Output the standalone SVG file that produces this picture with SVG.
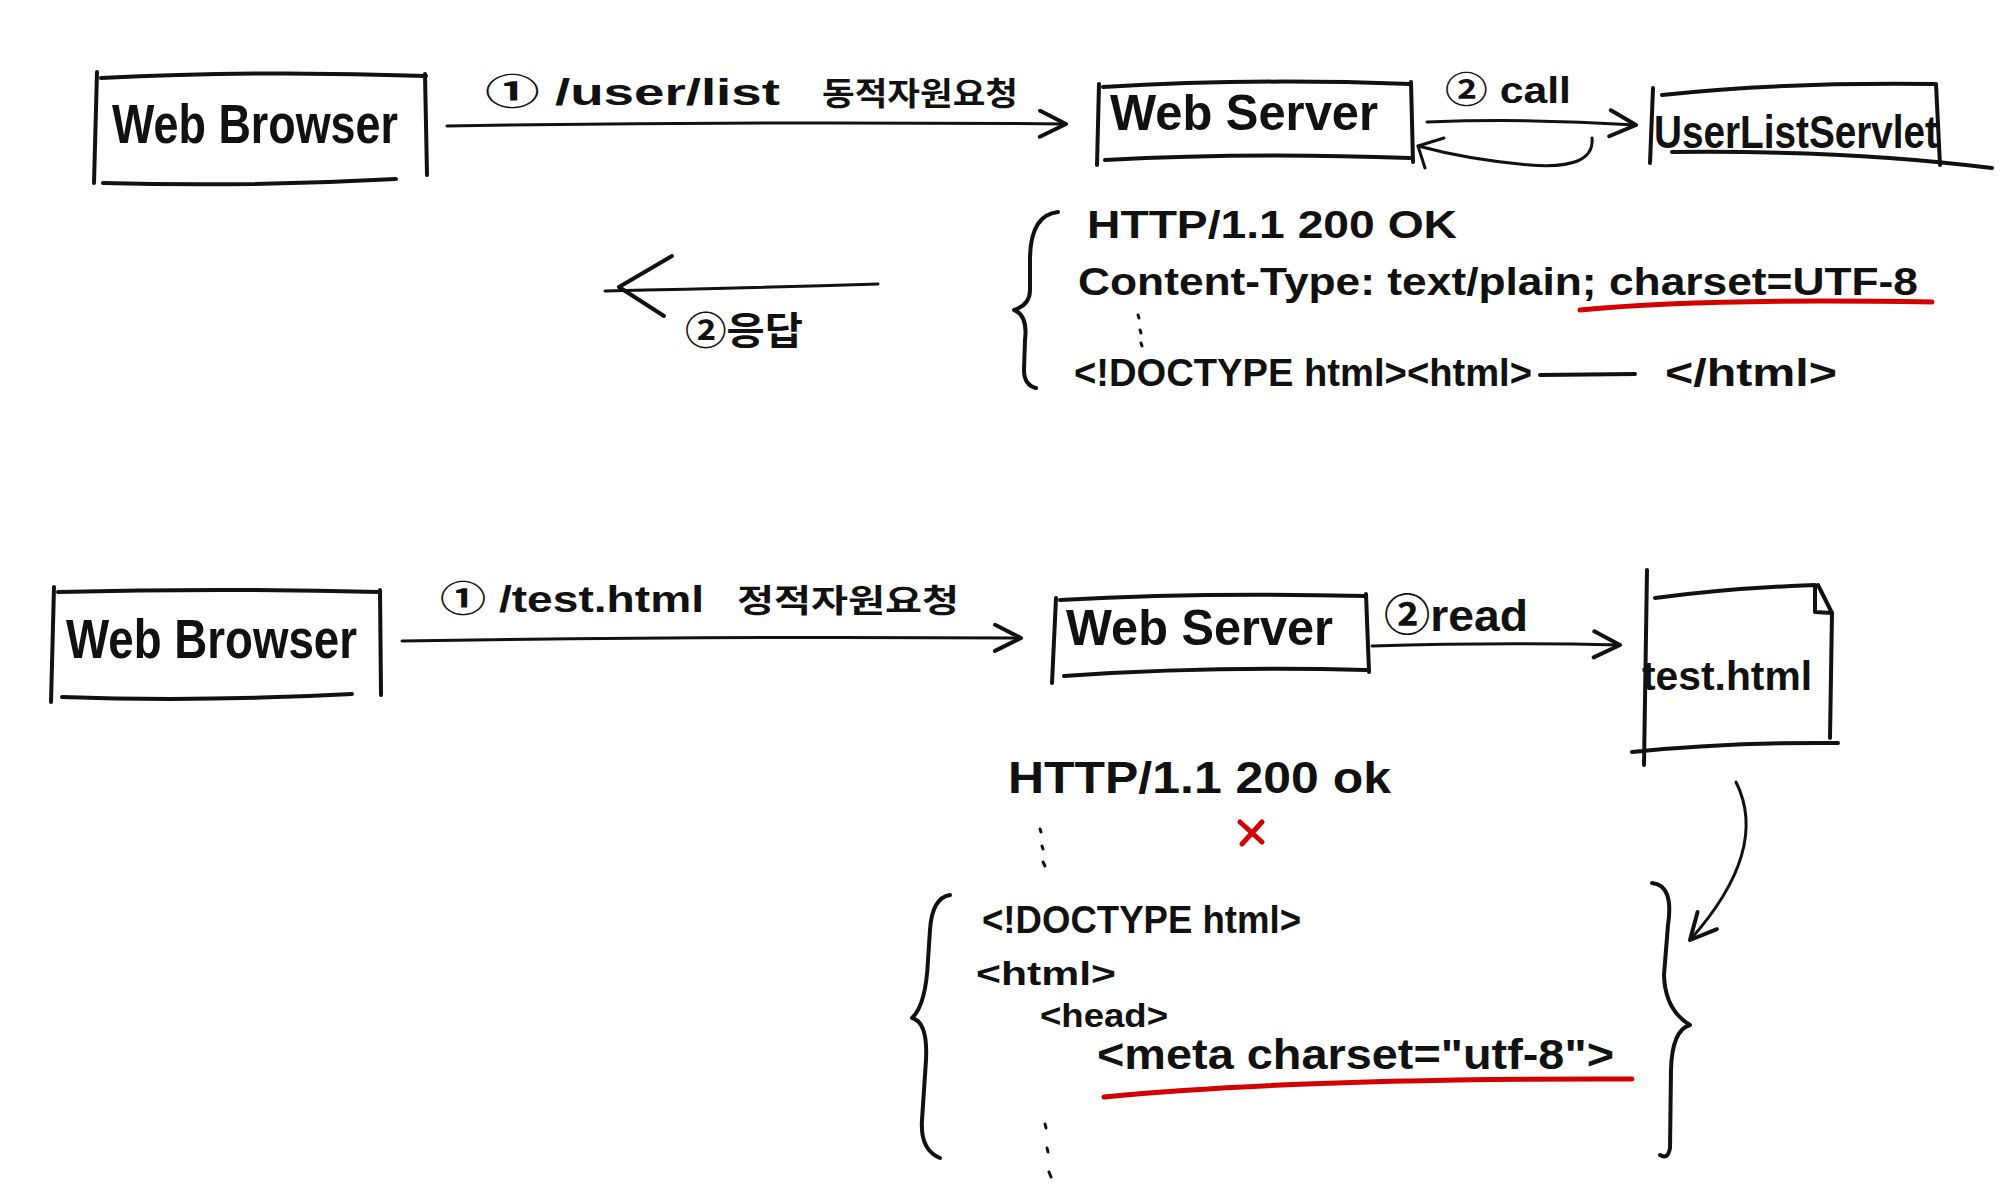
<svg xmlns="http://www.w3.org/2000/svg" width="2000" height="1196" viewBox="0 0 2000 1196">
<defs>
<style>
.ln{fill:none;stroke:#111;stroke-width:4;stroke-linecap:round;stroke-linejoin:round}
.thin{fill:none;stroke:#111;stroke-width:3;stroke-linecap:round;stroke-linejoin:round}
.red{fill:none;stroke:#d40000;stroke-width:5;stroke-linecap:round}
.t{font-family:"Liberation Sans","Noto Sans CJK KR",sans-serif;fill:#111;font-weight:bold}
.k{font-family:"Noto Sans CJK KR",sans-serif;fill:#111;font-weight:bold}
</style>
<marker id="ah" markerUnits="userSpaceOnUse" markerWidth="40" markerHeight="40" refX="30" refY="15" orient="auto">
<path d="M4,2 L30,15 L4,28" fill="none" stroke="#111" stroke-width="4" stroke-linecap="round" stroke-linejoin="round"/>
</marker>
</defs>
<rect width="2000" height="1196" fill="#fff"/>

<g id="browser1">
<path class="ln" d="M97,72 L94,183 M101,78 Q260,70 426,76 M425,74 L427,175 M103,183 Q250,187 396,179"/>
<text class="t" x="112" y="143" font-size="56" textLength="286" lengthAdjust="spacingAndGlyphs">Web Browser</text>
</g>

<g id="server1">
<path class="ln" d="M1099,84 L1097,165 M1103,87 Q1250,78 1410,84 M1411,82 L1413,162 M1105,160 Q1250,152 1410,158"/>
<text class="t" x="1110" y="130" font-size="50" textLength="268" lengthAdjust="spacingAndGlyphs">Web Server</text>
</g>

<g id="servlet">
<path class="ln" d="M1653,88 L1650,163 M1662,95 Q1780,82 1934,84 M1936,84 L1940,165 M1672,152 Q1850,150 1992,168"/>
<text class="t" x="1654" y="148" font-size="46" textLength="284" lengthAdjust="spacingAndGlyphs">UserListServlet</text>
</g>

<g id="response1">
<path class="ln" d="M1058,212 Q1030,215 1030,260 L1030,290 Q1030,305 1014,310 Q1028,315 1025,340 L1024,370 Q1024,385 1036,388"/>
<text class="t" x="1087" y="238" font-size="38" textLength="370" lengthAdjust="spacingAndGlyphs">HTTP/1.1  200 OK</text>
<text class="t" x="1078" y="295" font-size="38" textLength="840" lengthAdjust="spacingAndGlyphs">Content-Type: text/plain; charset=UTF-8</text>
<path class="red" d="M1580,310 Q1700,298 1932,302"/>
<path class="thin" d="M1138,315 L1139,318 M1140,330 L1141,333 M1141,343 L1142,346"/>
<text class="t" x="1074" y="386" font-size="38" textLength="458" lengthAdjust="spacingAndGlyphs">&lt;!DOCTYPE html&gt;&lt;html&gt;</text>
<path class="ln" d="M1540,375 L1635,374"/>
<text class="t" x="1665" y="386" font-size="38" textLength="172" lengthAdjust="spacingAndGlyphs">&lt;/html&gt;</text>
</g>

<g id="browser2">
<path class="ln" d="M54,587 L51,702 M58,592 Q220,588 380,592 M380,590 L381,695 M62,697 Q200,702 352,694"/>
<text class="t" x="66" y="658" font-size="56" textLength="291" lengthAdjust="spacingAndGlyphs">Web Browser</text>
</g>

<g id="server2">
<path class="ln" d="M1056,598 L1052,683 M1060,600 Q1200,592 1365,596 M1366,594 L1369,672 M1064,676 Q1210,666 1366,670"/>
<text class="t" x="1066" y="645" font-size="50" textLength="267" lengthAdjust="spacingAndGlyphs">Web Server</text>
</g>

<g id="file">
<path class="ln" d="M1647,570 L1644,765 M1655,598 Q1730,588 1815,585 L1815,612 L1832,613 L1818,585 M1832,613 L1830,738 M1632,752 Q1730,742 1838,743"/>
<text class="t" x="1642" y="690" font-size="40" textLength="170" lengthAdjust="spacingAndGlyphs">test.html</text>
</g>

<g id="response2">
<text class="t" x="1008" y="793" font-size="44" textLength="383" lengthAdjust="spacingAndGlyphs">HTTP/1.1 200 ok</text>
<path class="red" d="M1240,822 L1262,842 M1262,822 L1242,844"/>
<path class="thin" d="M1040,829 L1041,832 M1042,846 L1043,849 M1043,862 L1045,866"/>
<path class="ln" d="M950,895 Q932,898 930,930 L928,960 Q926,1005 912,1018 Q928,1022 926,1060 L922,1120 Q920,1150 940,1158"/>
<path class="ln" d="M1652,883 Q1674,885 1668,925 L1664,975 Q1665,1010 1690,1025 Q1672,1030 1671,1070 L1670,1148 Q1668,1160 1660,1155"/>
<text class="t" x="982" y="933" font-size="38" textLength="319" lengthAdjust="spacingAndGlyphs">&lt;!DOCTYPE html&gt;</text>
<text class="t" x="976" y="985" font-size="34" textLength="140" lengthAdjust="spacingAndGlyphs">&lt;html&gt;</text>
<text class="t" x="1040" y="1027" font-size="34" textLength="128" lengthAdjust="spacingAndGlyphs">&lt;head&gt;</text>
<text class="t" x="1097" y="1069" font-size="42" textLength="517" lengthAdjust="spacingAndGlyphs">&lt;meta charset="utf-8"&gt;</text>
<path class="red" d="M1104,1097 Q1300,1078 1632,1079"/>
<path class="thin" d="M1045,1124 L1046,1128 M1047,1148 L1048,1152 M1049,1172 L1051,1177"/>
</g>

<g id="connectors">
<path class="thin" d="M447,126 Q750,121 1066,124" marker-end="url(#ah)"/>
<text class="t" x="485" y="105" font-size="36" textLength="295" lengthAdjust="spacingAndGlyphs">① /user/list</text>
<text class="k" x="822" y="105" font-size="32" textLength="196" lengthAdjust="spacingAndGlyphs">동적자원요청</text>

<path class="thin" d="M1427,122 Q1530,118 1636,125" marker-end="url(#ah)"/>
<text class="t" x="1445" y="103" font-size="36" textLength="126" lengthAdjust="spacingAndGlyphs">② call</text>
<path class="thin" d="M1592,138 Q1595,170 1530,165 Q1470,160 1418,146"/>
<path class="thin" d="M1418,146 L1444,138 M1418,146 L1425,168"/>

<path class="thin" d="M878,284 Q750,288 605,291"/>
<path class="ln" d="M672,256 L619,287 L664,316"/>
<text class="k" x="685" y="344" font-size="38" textLength="118" lengthAdjust="spacingAndGlyphs">②응답</text>

<path class="thin" d="M402,641 Q700,636 1021,638" marker-end="url(#ah)"/>
<text class="t" x="440" y="612" font-size="36" textLength="264" lengthAdjust="spacingAndGlyphs">① /test.html</text>
<text class="k" x="737" y="612" font-size="32" textLength="222" lengthAdjust="spacingAndGlyphs">정적자원요청</text>

<path class="thin" d="M1372,646 Q1500,642 1620,645" marker-end="url(#ah)"/>
<text class="t" x="1384" y="631" font-size="44" textLength="144" lengthAdjust="spacingAndGlyphs">②read</text>

<path class="thin" d="M1736,782 Q1770,850 1690,940" marker-end="url(#ah)"/>
</g>
</svg>
